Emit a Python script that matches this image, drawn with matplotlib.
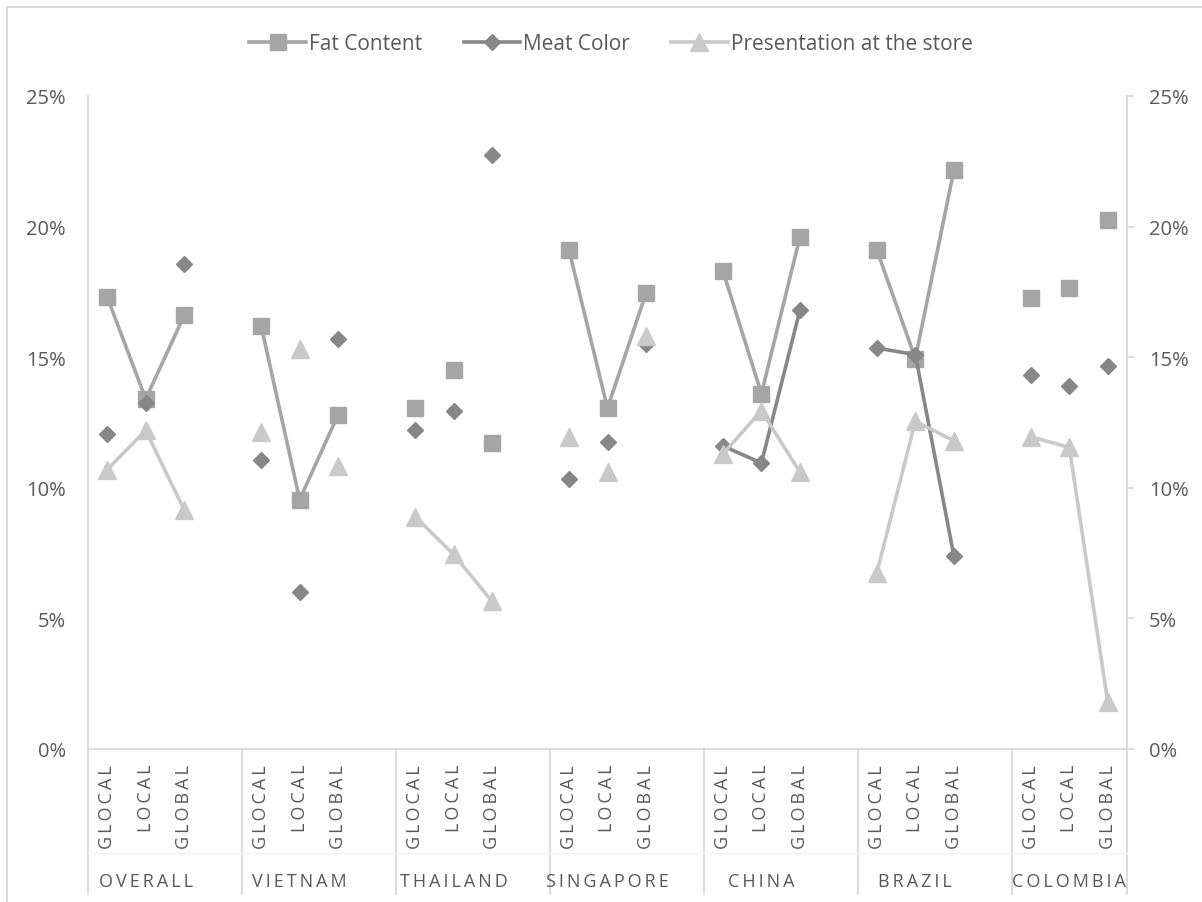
import matplotlib
matplotlib.use("Agg")
import matplotlib.pyplot as plt
from matplotlib.lines import Line2D
import numpy as np

plt.rcParams['font.family'] = ['Open Sans', 'DejaVu Sans']

groups = ["OVERALL", "VIETNAM", "THAILAND", "SINGAPORE", "CHINA", "BRAZIL", "COLOMBIA"]
levels = ["GLOCAL", "LOCAL", "GLOBAL"]

# share of respondents (%) per group, in the order GLOCAL, LOCAL, GLOBAL
fat_content = [17.3, 13.4, 16.6, 16.2, 9.55, 12.8, 13.05, 14.5, 11.7,
               19.1, 13.05, 17.45, 18.3, 13.6, 19.6, 19.1, 14.95, 22.15,
               17.25, 17.65, 20.25]
meat_color = [12.05, 13.25, 18.55, 11.05, 6.0, 15.7, 12.2, 12.95, 22.75,
              10.35, 11.75, 15.5, 11.6, 10.95, 16.8, 15.35, 15.1, 7.4,
              14.3, 13.9, 14.65]
presentation = [10.7, 12.2, 9.15, 12.15, 15.3, 10.85, 8.9, 7.45, 5.65,
                11.95, 10.6, 15.8, 11.3, 12.95, 10.6, 6.75, 12.55, 11.8,
                11.95, 11.55, 1.8]

# groups in which each series is drawn with connecting lines
fat_joined = ["OVERALL", "VIETNAM", "SINGAPORE", "CHINA", "BRAZIL"]
meat_joined = ["CHINA", "BRAZIL"]
pres_joined = ["OVERALL", "THAILAND", "CHINA", "BRAZIL", "COLOMBIA"]

series = [
    ("Fat Content", fat_content, fat_joined, "#A5A5A5", "s", 12),
    ("Meat Color", meat_color, meat_joined, "#878787", "D", 8),
    ("Presentation at the store", presentation, pres_joined, "#C9C9C9", "^", 12.5),
]

TXT = "#595959"
AXC = "#D9D9D9"


def spaced(word):
    # expanded character spacing
    return "\u2009".join(word)


fig = plt.figure(figsize=(12.02, 9.03), dpi=100)
ax = fig.add_axes([88 / 1202, 1 - 750 / 903, (1127 - 88) / 1202, 653 / 903])

# each group takes 4 slots (last one blank), colombia only 3
xpos = []
for g in range(len(groups)):
    for k in range(3):
        xpos.append(g * 4 + k)
xpos = np.array(xpos)

for z, (name, vals, joined, col, mk, ms) in enumerate(series):
    vals = np.array(vals)
    for g, gname in enumerate(groups):
        xs = xpos[g * 3:g * 3 + 3]
        ys = vals[g * 3:g * 3 + 3]
        ls = "-" if gname in joined else "none"
        ax.plot(xs, ys, linestyle=ls, color=col, lw=2.6, marker=mk, ms=ms,
                mec=col, mfc=col, zorder=3 + z, solid_capstyle="round")

ax.set_xlim(-0.5, 26.5)
ax.set_ylim(0, 25)
ax.set_yticks([0, 5, 10, 15, 20, 25])
ax.set_yticklabels([f"{v}%" for v in range(0, 30, 5)])
ax.set_xticks([])
ax.tick_params(axis="y", left=False, right=True, labelleft=True, labelright=True,
               length=5, width=1.3, color=AXC, pad=11, labelsize=14.5,
               labelcolor=TXT)
ax.spines["top"].set_visible(False)
for s in ["left", "right", "bottom"]:
    ax.spines[s].set_color(AXC)
    ax.spines[s].set_linewidth(1.3)

# category axis: lines running down through the label area
low = (750 - 895) / 653
for xa in [0, 1]:
    ax.add_line(Line2D([xa, xa], [low, 0], transform=ax.transAxes, color=AXC,
                       lw=1.3, clip_on=False))
trans = ax.get_xaxis_transform()
for g in range(1, len(groups)):
    ax.add_line(Line2D([g * 4 - 0.5] * 2, [low, 0], transform=trans, color=AXC,
                       lw=1.3, clip_on=False))
ax.add_line(Line2D([0, 1], [(750 - 854) / 653] * 2, transform=ax.transAxes,
                   color="#F3F3F3", lw=1.0, clip_on=False))

for g, gname in enumerate(groups):
    for k, lab in enumerate(levels):
        ax.text(g * 4 + k, (750 - 765) / 653, spaced(lab), transform=trans,
                rotation=90, ha="center", va="top", fontsize=13, color=TXT)
    ax.text(g * 4 + 1, (750 - 882) / 653, spaced(gname), transform=trans,
            ha="center", va="center", fontsize=13, color=TXT)

handles = [Line2D([], [], color=c, lw=2.6, marker=m, ms=s, mec=c, mfc=c)
           for _, _, _, c, m, s in series]
fig.legend(handles, [s[0] for s in series], loc="center", ncol=3,
           bbox_to_anchor=(611 / 1202, 1 - 45 / 903), frameon=False,
           fontsize=15, labelcolor=TXT, handlelength=2.7, handletextpad=0.15,
           columnspacing=2.0)

# chart area outline
fig.add_artist(Line2D([7 / 1202, 7 / 1202], [0, 1 - 8 / 903], color=AXC, lw=1.3,
                      transform=fig.transFigure))
fig.add_artist(Line2D([7 / 1202, 1], [1 - 8 / 903] * 2, color=AXC, lw=1.3,
                      transform=fig.transFigure))

fig.savefig("out.png", dpi=100)
